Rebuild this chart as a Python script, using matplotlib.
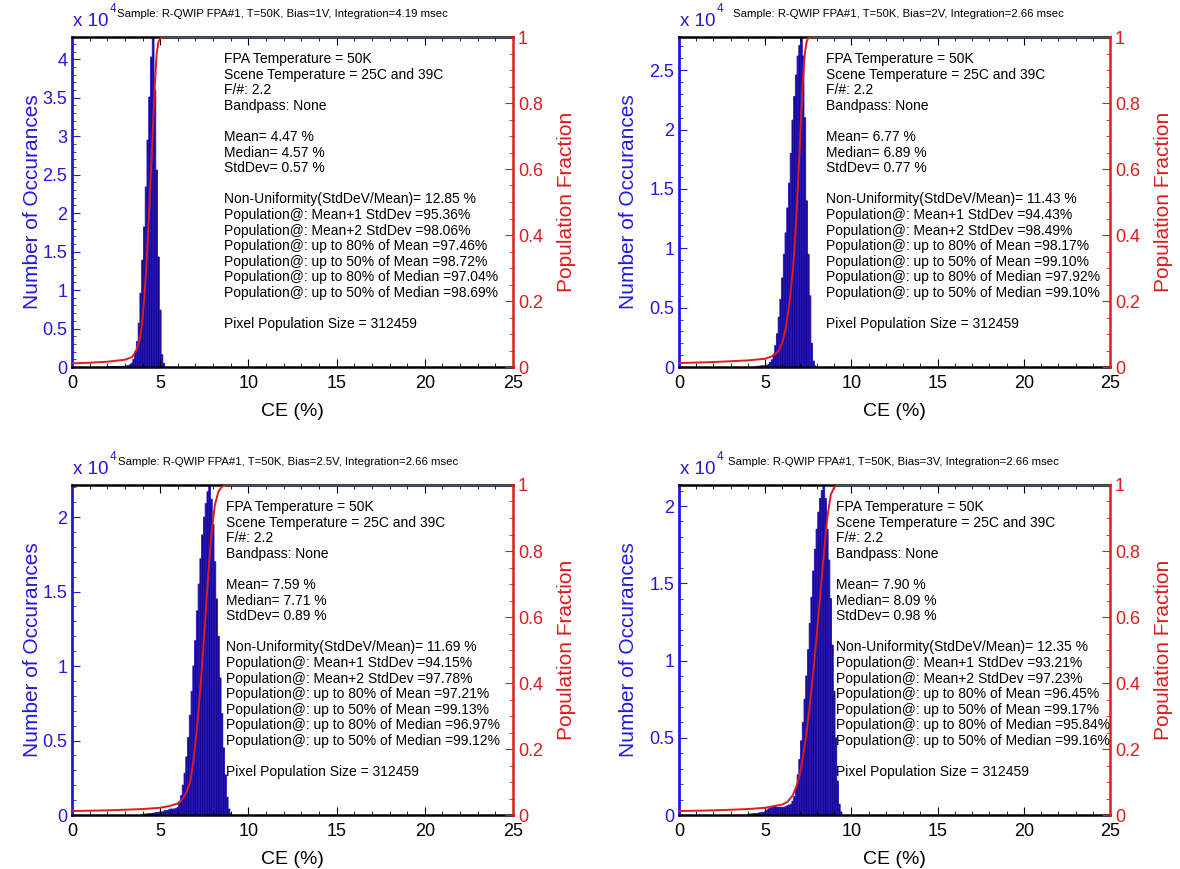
import matplotlib
matplotlib.use("Agg")
import matplotlib.pyplot as plt
from matplotlib.ticker import MultipleLocator, FuncFormatter

plt.rcParams['font.family'] = ['Liberation Sans', 'DejaVu Sans']

BLUE = '#2418e0'
RED = '#dd1c1c'
BAR_FACE = '#14068f'
BAR_EDGE = '#2414b4'

# histogram counts in units of 1e4, bins 0.1 wide starting at the given centre
tl_first_bin = 2.0
tl_counts = [0.004, 0.004, 0.005, 0.005, 0.006, 0.006, 0.007, 0.008, 0.009, 0.01,
             0.01, 0.015, 0.02, 0.03, 0.05, 0.1, 0.2, 0.33, 0.57, 0.96,
             1.39, 1.82, 2.34, 2.95, 3.51, 4.03, 4.29, 3.6, 2.56, 1.43,
             0.74, 0.16, 0.05]

tr_first_bin = 4.5
tr_counts = [0.005, 0.006, 0.008, 0.01, 0.01,
             0.01, 0.015, 0.02, 0.04, 0.06, 0.11, 0.18, 0.28, 0.42, 0.57,
             0.75, 0.95, 1.13, 1.34, 1.55, 1.8, 2.08, 2.28, 2.46, 2.62,
             2.71, 2.78, 2.62, 2.1, 1.4, 0.95, 0.6, 0.2, 0.05, 0.01]

bl_first_bin = 4.0
bl_counts = [0.005, 0.006, 0.007, 0.008, 0.009, 0.01, 0.012, 0.014, 0.016, 0.018,
             0.02, 0.02, 0.025, 0.03, 0.03, 0.035, 0.04, 0.04, 0.04, 0.045,
             0.05, 0.08, 0.13, 0.2, 0.28, 0.39, 0.52, 0.67, 0.83, 1.0,
             1.17, 1.37, 1.55, 1.72, 1.88, 2.0, 2.09, 2.17, 2.215, 2.12,
             1.95, 1.7, 1.45, 1.2, 0.92, 0.68, 0.45, 0.27, 0.12, 0.04, 0.01]

br_first_bin = 4.0
br_counts = [0.005, 0.006, 0.007, 0.008, 0.009, 0.01, 0.012, 0.014, 0.016, 0.018,
             0.02, 0.03, 0.04, 0.045, 0.05, 0.055, 0.055, 0.05, 0.05, 0.05,
             0.05, 0.05, 0.055, 0.06, 0.065, 0.07, 0.09, 0.12, 0.18, 0.26,
             0.36, 0.48, 0.6, 0.75, 0.9, 1.07, 1.24, 1.41, 1.58, 1.72,
             1.85, 1.96, 2.05, 2.1, 2.136, 2.05, 1.85, 1.65, 1.4, 1.1,
             0.8, 0.5, 0.22, 0.07, 0.02]

# cumulative population fraction
tl_cdf_x = [0, 1, 2, 3, 3.4, 3.6, 3.8, 3.9, 4.0, 4.1, 4.2, 4.3, 4.4, 4.5, 4.6, 4.7, 4.8, 4.9, 5.0, 5.2, 25]
tl_cdf_y = [0.011, 0.013, 0.016, 0.022, 0.03, 0.045, 0.075, 0.1, 0.15, 0.21, 0.29, 0.39, 0.5, 0.62,
            0.74, 0.86, 0.95, 0.985, 0.996, 1.0, 1.0]

tr_cdf_x = [0, 2, 4, 5, 5.5, 5.8, 6.0, 6.2, 6.4, 6.6, 6.7, 6.8, 6.9, 7.0, 7.1, 7.2, 7.3, 7.4, 7.5, 7.7, 25]
tr_cdf_y = [0.012, 0.015, 0.02, 0.025, 0.035, 0.05, 0.075, 0.12, 0.19, 0.29, 0.36, 0.45, 0.55, 0.66,
            0.78, 0.88, 0.95, 0.985, 0.997, 1.0, 1.0]

bl_cdf_x = [0, 2, 4, 5, 5.5, 6.0, 6.3, 6.5, 6.7, 6.9, 7.1, 7.3, 7.5, 7.7, 7.9, 8.1, 8.3, 8.5, 8.8, 25]
bl_cdf_y = [0.012, 0.014, 0.018, 0.022, 0.027, 0.035, 0.05, 0.07, 0.1, 0.17, 0.27, 0.4, 0.55, 0.71,
            0.85, 0.94, 0.98, 0.995, 1.0, 1.0]

br_cdf_x = [0, 2, 4, 5, 5.5, 6.0, 6.3, 6.6, 6.8, 7.0, 7.2, 7.4, 7.6, 7.8, 8.0, 8.2, 8.4, 8.6, 8.8, 9.0, 9.2, 25]
br_cdf_y = [0.012, 0.014, 0.018, 0.022, 0.027, 0.032, 0.04, 0.06, 0.085, 0.12, 0.18, 0.25, 0.34, 0.44,
            0.55, 0.67, 0.79, 0.9, 0.97, 0.993, 1.0, 1.0]

bias_labels = ["1V", "2V", "2.5V", "3V"]
integration_ms = ["4.19", "2.66", "2.66", "2.66"]
mean_vals = ["4.47", "6.77", "7.59", "7.90"]
median_vals = ["4.57", "6.89", "7.71", "8.09"]
std_vals = ["0.57", "0.77", "0.89", "0.98"]
nonuni_vals = ["12.85", "11.43", "11.69", "12.35"]
pop_1std = ["95.36", "94.43", "94.15", "93.21"]
pop_2std = ["98.06", "98.49", "97.78", "97.23"]
pop_80mean = ["97.46", "98.17", "97.21", "96.45"]
pop_50mean = ["98.72", "99.10", "99.13", "99.17"]
pop_80med = ["97.04", "97.92", "96.97", "95.84"]
pop_50med = ["98.69", "99.10", "99.12", "99.16"]
pixel_count = "312459"


def stats_lines(i):
    return [
        "FPA Temperature = 50K",
        "Scene Temperature = 25C and 39C",
        "F/#: 2.2",
        "Bandpass: None",
        "",
        f"Mean= {mean_vals[i]} %",
        f"Median= {median_vals[i]} %",
        f"StdDev= {std_vals[i]} %",
        "",
        f"Non-Uniformity(StdDeV/Mean)= {nonuni_vals[i]} %",
        f"Population@: Mean+1 StdDev ={pop_1std[i]}%",
        f"Population@: Mean+2 StdDev ={pop_2std[i]}%",
        f"Population@: up to 80% of Mean ={pop_80mean[i]}%",
        f"Population@: up to 50% of Mean ={pop_50mean[i]}%",
        f"Population@: up to 80% of Median ={pop_80med[i]}%",
        f"Population@: up to 50% of Median ={pop_50med[i]}%",
        "",
        f"Pixel Population Size = {pixel_count}",
    ]


def draw_panel(fig, rect, i, first_bin, counts, cdf_x, cdf_y, text_x, ylabel_pad, title_dx):
    ax = fig.add_axes(rect)
    centers = [first_bin + 0.1 * k for k in range(len(counts))]
    ax.bar(centers, counts, width=0.1, color=BAR_FACE, edgecolor=BAR_EDGE,
           linewidth=0.6, snap=False)
    ax.set_xlim(0, 25)
    ax.set_ylim(0, max(counts))
    ax.xaxis.set_major_locator(MultipleLocator(5))
    ax.xaxis.set_minor_locator(MultipleLocator(1))
    ax.yaxis.set_major_locator(MultipleLocator(0.5))
    ax.yaxis.set_minor_locator(MultipleLocator(0.1))
    ax.yaxis.set_major_formatter(FuncFormatter(lambda v, p: f"{v:g}"))
    ax.tick_params(axis='x', which='both', direction='in', top=True, colors='black', labelsize=13)
    ax.tick_params(axis='x', which='major', length=6, pad=6)
    ax.tick_params(axis='x', which='minor', length=3)
    ax.tick_params(axis='y', which='both', direction='in', left=True, right=True,
                   colors=BLUE, labelsize=13)
    ax.tick_params(axis='y', which='major', length=6)
    ax.tick_params(axis='y', which='minor', length=3)
    ax.spines['left'].set_color(BLUE)
    ax.spines['left'].set_linewidth(2)
    ax.spines['right'].set_visible(False)
    ax.spines['top'].set_linewidth(1.8)
    ax.spines['bottom'].set_linewidth(1.8)
    ax.set_xlabel("CE (%)", fontsize=14, labelpad=8)
    ax.set_ylabel("Number of Occurances", fontsize=15, color=BLUE, labelpad=ylabel_pad)

    ax2 = ax.twinx()
    ax2.plot(cdf_x, cdf_y, color=RED, linewidth=1.4)
    ax2.set_ylim(0, 1)
    ax2.set_xlim(0, 25)
    ax2.yaxis.set_major_locator(MultipleLocator(0.2))
    ax2.yaxis.set_minor_locator(MultipleLocator(0.05))
    ax2.yaxis.set_major_formatter(FuncFormatter(lambda v, p: f"{v:g}"))
    ax2.tick_params(axis='y', which='both', direction='in', colors=RED, labelsize=13)
    ax2.tick_params(axis='y', which='major', length=6)
    ax2.tick_params(axis='y', which='minor', length=3)
    for side in ('left', 'top', 'bottom'):
        ax2.spines[side].set_visible(False)
    ax2.spines['right'].set_color(RED)
    ax2.spines['right'].set_linewidth(1.8)
    ax2.set_ylabel("Population Fraction", fontsize=15, color=RED, labelpad=10)

    h_px = rect[3] * 869
    for k, line in enumerate(stats_lines(i)):
        if line:
            ax2.text(text_x, 1 - (22 + 15.6 * k) / h_px, line, transform=ax2.transAxes,
                     fontsize=10, va='center', ha='left', color='black')

    ax2.annotate("x 10", xy=(0, 1), xycoords='axes fraction', xytext=(1, 15),
                 textcoords='offset pixels', ha='left', va='center', fontsize=13.5, color=BLUE)
    ax2.annotate("4", xy=(0, 1), xycoords='axes fraction', xytext=(38, 28),
                 textcoords='offset pixels', ha='left', va='center', fontsize=8.5, color=BLUE)
    title = (f"Sample: R-QWIP FPA#1, T=50K, Bias={bias_labels[i]}, "
             f"Integration={integration_ms[i]} msec")
    ax2.annotate(title, xy=(0.5, 1), xycoords='axes fraction', xytext=(title_dx, 23),
                 textcoords='offset pixels', ha='center', va='center', fontsize=8.2, color='black')
    return ax, ax2


fig = plt.figure(figsize=(11.8, 8.69), dpi=100)
fig.patch.set_facecolor('white')

left_x = 72 / 1180
right_x = 679 / 1180
w_left = 441 / 1180
w_right = 431 / 1180
h = 330 / 869
top_y = 1 - 367 / 869
bot_y = 1 - 815 / 869

draw_panel(fig, [left_x, top_y, w_left, h], 0, tl_first_bin, tl_counts, tl_cdf_x, tl_cdf_y, 0.345, 0, -10)
draw_panel(fig, [right_x, top_y, w_right, h], 1, tr_first_bin, tr_counts, tr_cdf_x, tr_cdf_y, 0.341, 8, 4)
draw_panel(fig, [left_x, bot_y, w_left, h], 2, bl_first_bin, bl_counts, bl_cdf_x, bl_cdf_y, 0.349, 0, -4)
draw_panel(fig, [right_x, bot_y, w_right, h], 3, br_first_bin, br_counts, br_cdf_x, br_cdf_y, 0.364, 8, -1)

fig.savefig("out.png", dpi=100)
